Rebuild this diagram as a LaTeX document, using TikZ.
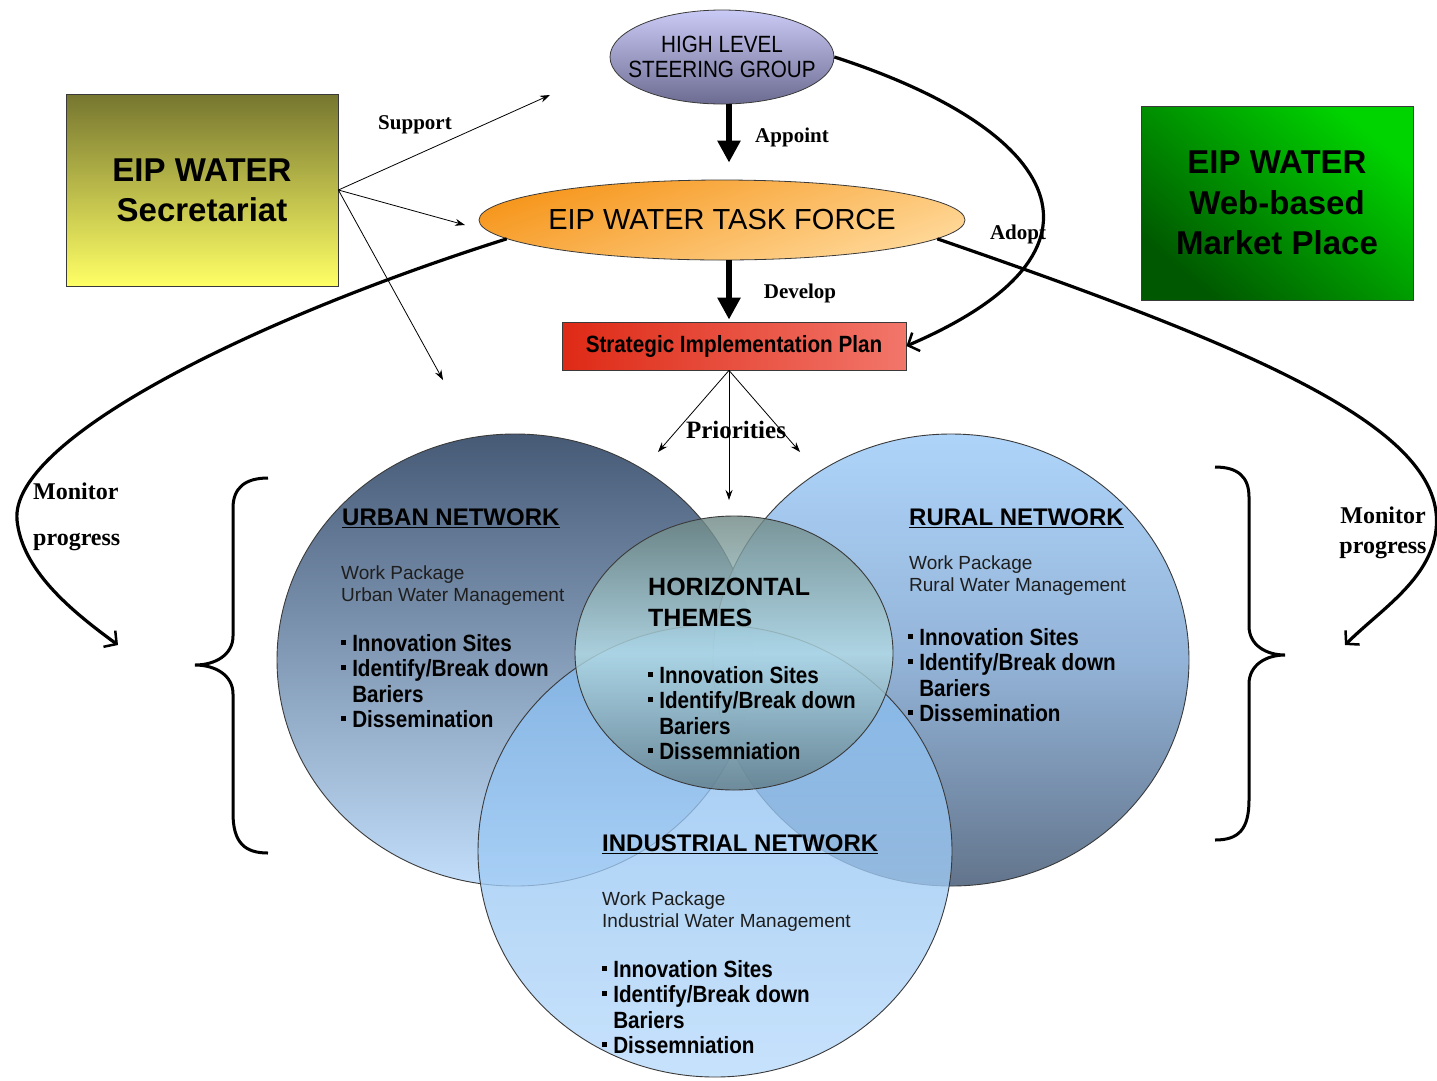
\documentclass[tikz,border=0pt]{standalone}
\usepackage{fontspec}
\setmainfont{Liberation Sans}
\newfontfamily\narrowsf[FakeStretch=0.88]{Liberation Sans}
\newfontfamily\labelrm{Liberation Serif}
\usetikzlibrary{arrows.meta,shapes.geometric}

\definecolor{hlsgtop}{HTML}{CACAF6}
\definecolor{hlsgbot}{HTML}{6C6C92}
\definecolor{tftop}{HTML}{F6961C}
\definecolor{tfbot}{HTML}{FFD898}
\definecolor{sipleft}{HTML}{DE2A16}
\definecolor{sipright}{HTML}{F2766A}
\definecolor{sectop}{HTML}{767630}
\definecolor{secbot}{HTML}{FFFF66}
\definecolor{webdark}{HTML}{005800}
\definecolor{weblight}{HTML}{00D400}
\definecolor{urbtop}{HTML}{465A76}
\definecolor{urbbot}{HTML}{C2DEFA}
\definecolor{rurtop}{HTML}{A6D0FA}
\definecolor{rurmid}{HTML}{88ACD4}
\definecolor{rurbot}{HTML}{526680}
\definecolor{indtop}{HTML}{82B9EE}
\definecolor{indbot}{HTML}{B8DAFB}
\definecolor{hortop}{HTML}{6E8884}
\definecolor{hormid}{HTML}{B4DCE6}
\definecolor{horbot}{HTML}{5E7A84}
\definecolor{rim}{HTML}{3A3A3A}
\definecolor{wptext}{HTML}{1E1E1E}

\newcommand{\bul}{\makebox[0.47em][l]{\rule[0.28em]{0.2em}{0.2em}}}
\newcommand{\ind}{\hspace*{0.47em}}

\begin{document}
\begin{tikzpicture}[x=1pt, y=-1pt,
    box/.style={draw=rim, line width=0.8pt, inner sep=0pt, align=center},
    oval/.style={ellipse, draw=rim, line width=0.8pt, inner sep=0pt, align=center},
    thin arrow/.style={-{Stealth[length=10pt,width=7pt]}, line width=0.8pt},
    fat arrow/.style={-{Triangle[length=22pt,width=22pt]}, line width=6pt},
    bent arrow/.style={-{Straight Barb[length=9pt,width=20pt,line width=2.5pt]}, line width=3.2pt},
    verb/.style={font=\labelrm\bfseries\fontsize{21}{24}\selectfont, inner sep=0pt},
    net/.style={font=\bfseries\fontsize{24}{28}\selectfont, anchor=west, inner sep=0pt, align=left},
    wp/.style={font=\fontsize{19}{22}\selectfont, text=wptext, align=left, anchor=west, inner sep=0pt},
    items/.style={font=\narrowsf\bfseries\fontsize{23.5}{25.5}\selectfont, align=left, anchor=west, inner sep=0pt},
    lobe/.style={draw=rim, line width=0.9pt}]
  \fill[white] (0,0) rectangle (1437,1080);
  \useasboundingbox (0,0) rectangle (1437,1080);

  % the four networks
  \shadedraw[lobe, top color=urbtop, bottom color=urbbot] (515,660) ellipse [x radius=238, y radius=226];
  \shadedraw[lobe, fill opacity=0.9, top color=rurtop, bottom color=rurbot, middle color=rurmid] (951,660) ellipse [x radius=238, y radius=226];
  \shadedraw[lobe, fill opacity=0.78, top color=indtop, bottom color=indbot] (715,851) ellipse [x radius=237, y radius=226];
  \shadedraw[lobe, fill opacity=0.8, top color=hortop, bottom color=horbot, middle color=hormid] (734,653) ellipse [x radius=159, y radius=137];

  \node[net] (urbanhd) at (342,518) {\underline{URBAN NETWORK}};
  \node[wp] (urbanwp) at (341,586) {Work Package\\Urban Water Management};
  \node[items] (urbanit) at (341,681) {\bul Innovation Sites\\\bul Identify/Break down\\\ind Bariers\\\bul Dissemination};

  \node[net] (ruralhd) at (909,518) {\underline{RURAL NETWORK}};
  \node[wp] (ruralwp) at (909,576) {Work Package\\Rural Water Management};
  \node[items] (ruralit) at (908,675) {\bul Innovation Sites\\\bul Identify/Break down\\\ind Bariers\\\bul Dissemination};

  \node[net, font=\bfseries\fontsize{25}{31}\selectfont] (horhd) at (648,602) {HORIZONTAL\\THEMES};
  \node[items] (horit) at (648,713) {\bul Innovation Sites\\\bul Identify/Break down\\\ind Bariers\\\bul Dissemniation};

  \node[net] (indhd) at (602,844) {\underline{INDUSTRIAL NETWORK}};
  \node[wp] (indwp) at (602,912) {Work Package\\Industrial Water Management};
  \node[items] (indit) at (602,1007) {\bul Innovation Sites\\\bul Identify/Break down\\\ind Bariers\\\bul Dissemniation};

  % braces
  \draw[line width=3pt] (268,478) .. controls (245,478) and (233,488) .. (233,508) -- (233,636)
    .. controls (233,655) and (215,665) .. (195,665) .. controls (215,665) and (233,675) .. (233,694)
    -- (233,813) .. controls (233,843) and (245,853) .. (268,853);
  \draw[line width=3pt] (1215,467) .. controls (1238,467) and (1249,477) .. (1249,497) -- (1249,626)
    .. controls (1249,645) and (1266,655) .. (1285,655) .. controls (1266,655) and (1249,665) .. (1249,684)
    -- (1249,800) .. controls (1249,830) and (1238,840) .. (1215,840);

  % top part
  \node[oval, minimum width=224, minimum height=94, inner xsep=-15pt, top color=hlsgtop, bottom color=hlsgbot,
    font=\narrowsf\fontsize{23.5}{25}\selectfont] (hlsg) at (722,57) {HIGH LEVEL\\STEERING GROUP};
  \node[oval, minimum width=486, minimum height=80, inner xsep=-4pt, top color=tftop, bottom color=tfbot, shading angle=20,
    font=\fontsize{29}{32}\selectfont] (tf) at (722,220) {EIP WATER TASK FORCE};
  \node[box, minimum width=344, minimum height=48, left color=sipleft, right color=sipright,
    font=\narrowsf\bfseries\fontsize{23.5}{26}\selectfont] (sip) at (734,346) {Strategic Implementation Plan};
  \node[box, minimum width=272, minimum height=192, top color=sectop, bottom color=secbot,
    font=\bfseries\fontsize{33}{40}\selectfont] (sec) at (202,190) {EIP WATER\\Secretariat};
  \node[box, minimum width=272, minimum height=194, top color=weblight, bottom color=webdark, shading angle=-40,
    font=\bfseries\fontsize{33}{40.5}\selectfont] (web) at (1277,203) {EIP WATER\\Web-based\\Market Place};

  % support
  \coordinate (sup1) at (550,95);
  \coordinate (sup2) at (465,225);
  \coordinate (sup3) at (443,380);
  \draw[thin arrow] (sec.east) -- (sup1);
  \draw[thin arrow] (sec.east) -- (sup2);
  \draw[thin arrow] (sec.east) -- (sup3);
  \node[verb] (support) at (415,125) {Support};

  \draw[fat arrow, shorten >=17pt] ([xshift=7pt]hlsg.south) -- ([xshift=7pt]tf.north);
  \node[verb] (appoint) at (792,137) {Appoint};
  \draw[fat arrow, shorten >=2pt] ([xshift=7pt]tf.south) -- ([xshift=-5pt]sip.north);
  \node[verb] (develop) at (800,293) {Develop};

  \draw[bent arrow] (hlsg.east) .. controls (1060,130) and (1130,250) .. (sip.east);
  \node[verb] (adopt) at (1018,234) {Adopt};

  % priorities
  \coordinate (pri1) at (658,452);
  \coordinate (pri2) at (729,500);
  \coordinate (pri3) at (800,452);
  \draw[thin arrow] ([xshift=-5pt]sip.south) -- (pri1);
  \draw[thin arrow] ([xshift=-5pt]sip.south) -- (pri2);
  \draw[thin arrow] ([xshift=-5pt]sip.south) -- (pri3);
  \node[verb, font=\labelrm\bfseries\fontsize{25}{28}\selectfont] (prio) at (736,430) {Priorities};

  % monitor progress
  \coordinate (monl) at (118,645);
  \coordinate (monr) at (1345,645);
  \draw[bent arrow] (tf.185) .. controls (250,320) and (10,440) .. (17,520)
    .. controls (22,570) and (70,610) .. (monl);
  \draw[bent arrow] (tf.-5) .. controls (1260,350) and (1448,430) .. (1436,530)
    .. controls (1430,580) and (1380,610) .. (monr);
  \node[verb, font=\labelrm\bfseries\fontsize{24}{46}\selectfont, align=left, anchor=west] (monlab) at (33,517) {Monitor\\progress};
  \node[verb, font=\labelrm\bfseries\fontsize{24}{30}\selectfont, align=center] (monrab) at (1383,533) {Monitor\\progress};
\end{tikzpicture}
\end{document}
